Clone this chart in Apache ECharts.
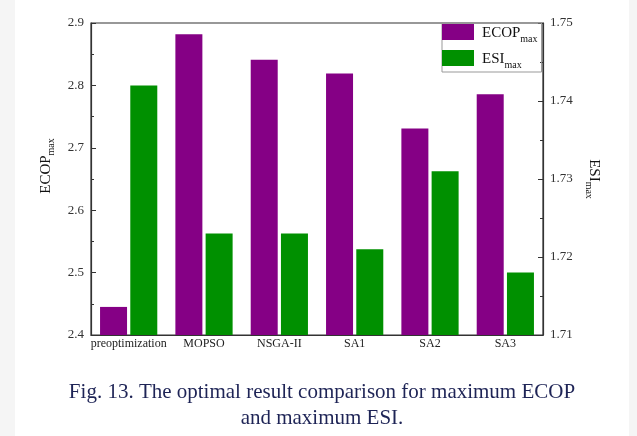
<!DOCTYPE html>
<html>
<head>
<meta charset="utf-8">
<script src="https://cdn.jsdelivr.net/npm/echarts@6/dist/echarts.min.js"></script>
<style>
html,body{margin:0;padding:0;background:#ffffff;}
#chart{width:637px;height:436px;}
</style>
</head>
<body>
<div id="chart"></div>
<script>
const categories = ['preoptimization', 'MOPSO', 'NSGA-II', 'SA1', 'SA2', 'SA3'];
const ecopValues = [2.445, 2.882, 2.841, 2.819, 2.731, 2.786];
const esiValues = [1.742, 1.723, 1.723, 1.721, 1.731, 1.718];
const leftTicks = { min: 2.4, max: 2.9, interval: 0.1 };
const rightTicks = { min: 1.71, max: 1.75, interval: 0.01 };
const captionLines = ['Fig. 13. The optimal result comparison for maximum ECOP', 'and maximum ESI.'];

const FONT = '"Liberation Serif", "Times New Roman", serif';
const AXIS_COLOR = '#333333';
const subRich = {
  a: { fontFamily: FONT, fontSize: 15, color: '#111', lineHeight: 18, verticalAlign: 'bottom' },
  b: { fontFamily: FONT, fontSize: 10, color: '#111', lineHeight: 18, verticalAlign: 'bottom', padding: [0, 0, -3, 0] }
};

const chart = echarts.init(document.getElementById('chart'), null, { renderer: 'canvas' });
chart.setOption({
  backgroundColor: '#ffffff',
  animation: false,
  graphic: [
    { type: 'rect', left: 0, top: 0, shape: { width: 15, height: 436 }, style: { fill: '#f5f5f5' }, silent: true },
    { type: 'rect', left: 629, top: 0, shape: { width: 8, height: 436 }, style: { fill: '#f5f5f5' }, silent: true },
    {
      type: 'text', x: 322, y: 379, silent: true,
      style: {
        text: captionLines.join('\n'),
        textAlign: 'center', textVerticalAlign: 'top',
        font: '21px "Liberation Serif", "Times New Roman", serif',
        fill: '#1e2456', lineHeight: 26
      }
    }
  ],
  legend: {
    orient: 'vertical',
    left: 442,
    top: 23,
    itemWidth: 32,
    itemHeight: 16,
    itemGap: 6,
    icon: 'rect',
    padding: [1, 4, 2, 0],
    borderColor: '#999',
    borderWidth: 1,
    data: ['ECOP', 'ESI'],
    formatter: function (n) { return '{a|' + n + '}{b|max}'; },
    textStyle: { rich: subRich, padding: [0, 0, 0, 3] }
  },
  grid: {
    left: 91, right: 94, top: 23, bottom: 101,
    show: true, borderColor: AXIS_COLOR, borderWidth: 1.2, backgroundColor: 'transparent'
  },
  xAxis: {
    type: 'category',
    data: categories,
    axisLine: { lineStyle: { color: AXIS_COLOR, width: 1.2 } },
    axisTick: { inside: true, length: 4, lineStyle: { color: AXIS_COLOR } },
    axisLabel: { interval: 0, fontFamily: FONT, fontSize: 12, color: '#222', margin: 3 }
  },
  yAxis: [
    {
      type: 'value',
      min: leftTicks.min, max: leftTicks.max, interval: leftTicks.interval,
      name: '{a|ECOP}{b|max}',
      nameLocation: 'middle',
      nameGap: 27,
      nameTextStyle: { rich: subRich, padding: [0, 0, 0, 26] },
      axisLine: { show: true, lineStyle: { color: AXIS_COLOR, width: 1.2 } },
      axisTick: { show: true, inside: true, length: 5, lineStyle: { color: AXIS_COLOR } },
      minorTick: { show: true, splitNumber: 2, length: 3, lineStyle: { color: AXIS_COLOR } },
      splitLine: { show: false },
      axisLabel: { fontFamily: FONT, fontSize: 13, color: '#333', margin: 7, formatter: v => v.toFixed(1) }
    },
    {
      type: 'value',
      position: 'right',
      min: rightTicks.min, max: rightTicks.max, interval: rightTicks.interval,
      name: '{a|ESI}{b|max}',
      nameLocation: 'middle',
      nameRotate: -90,
      nameGap: 31,
      nameTextStyle: { rich: subRich },
      axisLine: { show: true, lineStyle: { color: AXIS_COLOR, width: 1.2 } },
      axisTick: { show: true, inside: true, length: 5, lineStyle: { color: AXIS_COLOR } },
      minorTick: { show: true, splitNumber: 2, length: 3, lineStyle: { color: AXIS_COLOR } },
      splitLine: { show: false },
      axisLabel: { fontFamily: FONT, fontSize: 13, color: '#333', margin: 7, formatter: v => v.toFixed(2) }
    }
  ],
  series: [
    {
      name: 'ECOP', type: 'bar', yAxisIndex: 0, data: ecopValues,
      barWidth: 27, barGap: '12%',
      itemStyle: { color: '#850085' }
    },
    {
      name: 'ESI', type: 'bar', yAxisIndex: 1, data: esiValues,
      barWidth: 27, barGap: '12%',
      itemStyle: { color: '#009000' }
    }
  ]
});
</script>
</body>
</html>
